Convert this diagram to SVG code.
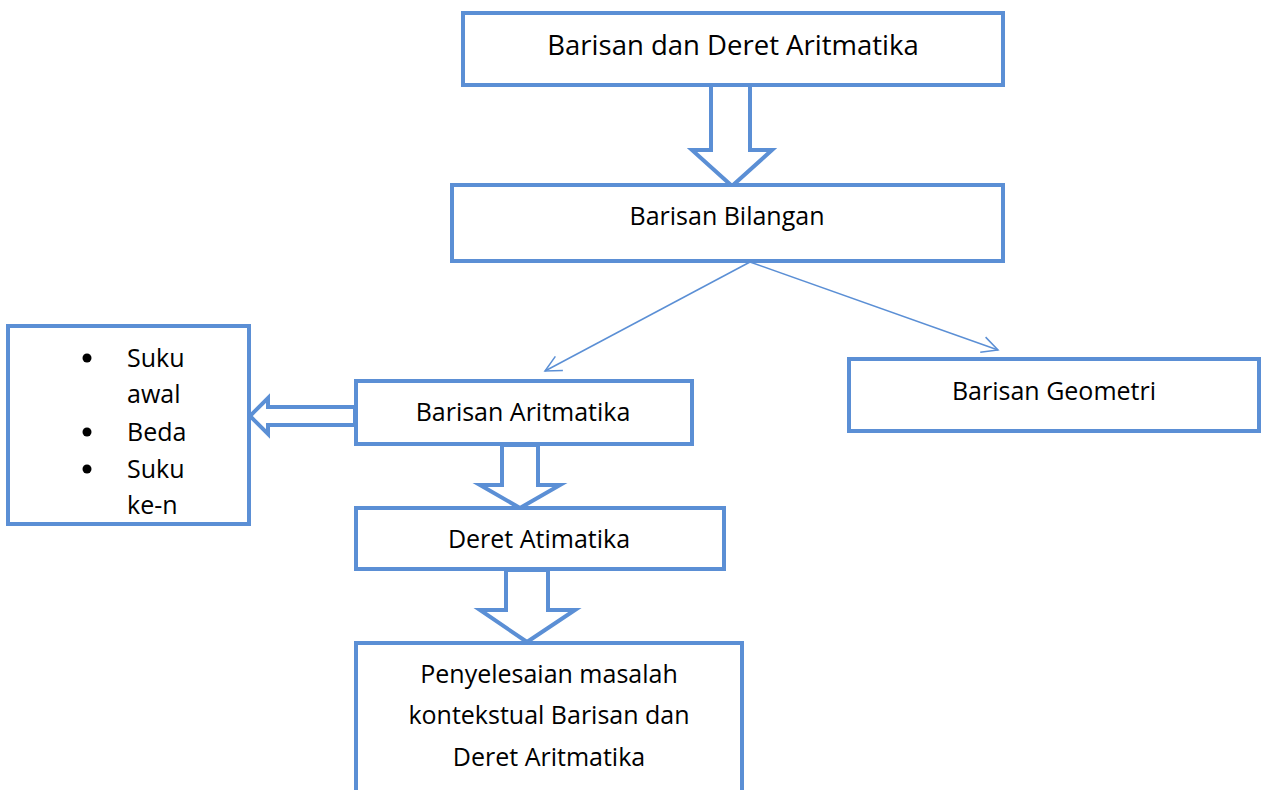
<svg xmlns="http://www.w3.org/2000/svg" width="1262" height="790" viewBox="0 0 1262 790">
<style>
.box{fill:#fff;stroke:#5B8FD5;stroke-width:4}
.blk{fill:#fff;stroke:#5B8FD5;stroke-width:4;stroke-linejoin:miter}
.ln{fill:none;stroke:#5B8FD5;stroke-width:1.5}
text{font-family:"Open Sans","Liberation Sans",sans-serif;font-size:25px;fill:#000}
.c{text-anchor:middle}
.t{font-size:27.5px}
</style>
<defs>
<marker id="open" viewBox="0 0 20 20" refX="18" refY="10" markerWidth="20" markerHeight="20" markerUnits="userSpaceOnUse" orient="auto">
<path d="M2,2 L18,10 L2,18" fill="none" stroke="#5B8FD5" stroke-width="1.5"/>
</marker>
</defs>
<rect width="1262" height="790" fill="#fff"/>
<g id="connectors">
<path class="blk" d="M711,84 L750,84 L750,150 L772,150 L732,186 L692,150 L711,150 Z"/>
<line class="ln" x1="750" y1="262" x2="545" y2="371" marker-end="url(#open)"/>
<line class="ln" x1="750" y1="262" x2="998" y2="350" marker-end="url(#open)"/>
<path class="blk" d="M355,407 L268,407 L268,398 L250,416 L268,434 L268,425 L355,425 Z"/>
<path class="blk" d="M502,445 L538,445 L538,485 L560,485 L520,508 L480,485 L502,485 Z"/>
<path class="blk" d="M506,570 L548,570 L548,610 L575,610 L527,642 L480,610 L506,610 Z"/>
</g>
<g id="n1"><rect class="box" x="463" y="13" width="540" height="72"/><text class="c t" x="733" y="55">Barisan dan Deret Aritmatika</text></g>
<g id="n2"><rect class="box" x="452" y="185" width="551" height="76"/><text class="c" x="727" y="225">Barisan Bilangan</text></g>
<g id="n3"><rect class="box" x="356" y="381" width="336" height="63"/><text class="c" x="523" y="421">Barisan Aritmatika</text></g>
<g id="n4"><rect class="box" x="849" y="359" width="410" height="72"/><text class="c" x="1054" y="400">Barisan Geometri</text></g>
<g id="n5"><rect class="box" x="8" y="326" width="241" height="198"/>
<circle cx="87" cy="358" r="4.5" fill="#000"/><circle cx="87" cy="432" r="4.5" fill="#000"/><circle cx="87" cy="469" r="4.5" fill="#000"/>
<text x="127" y="367">Suku</text><text x="127" y="403">awal</text><text x="127" y="441">Beda</text><text x="127" y="478">Suku</text><text x="127" y="514">ke-n</text></g>
<g id="n6"><rect class="box" x="356" y="508" width="368" height="61"/><text class="c" x="539" y="548">Deret Atimatika</text></g>
<g id="n7"><rect class="box" x="356" y="643" width="386" height="150"/>
<text class="c" x="549" y="683">Penyelesaian masalah</text><text class="c" x="549" y="724">kontekstual Barisan dan</text><text class="c" x="549" y="766">Deret Aritmatika</text></g>
</svg>
